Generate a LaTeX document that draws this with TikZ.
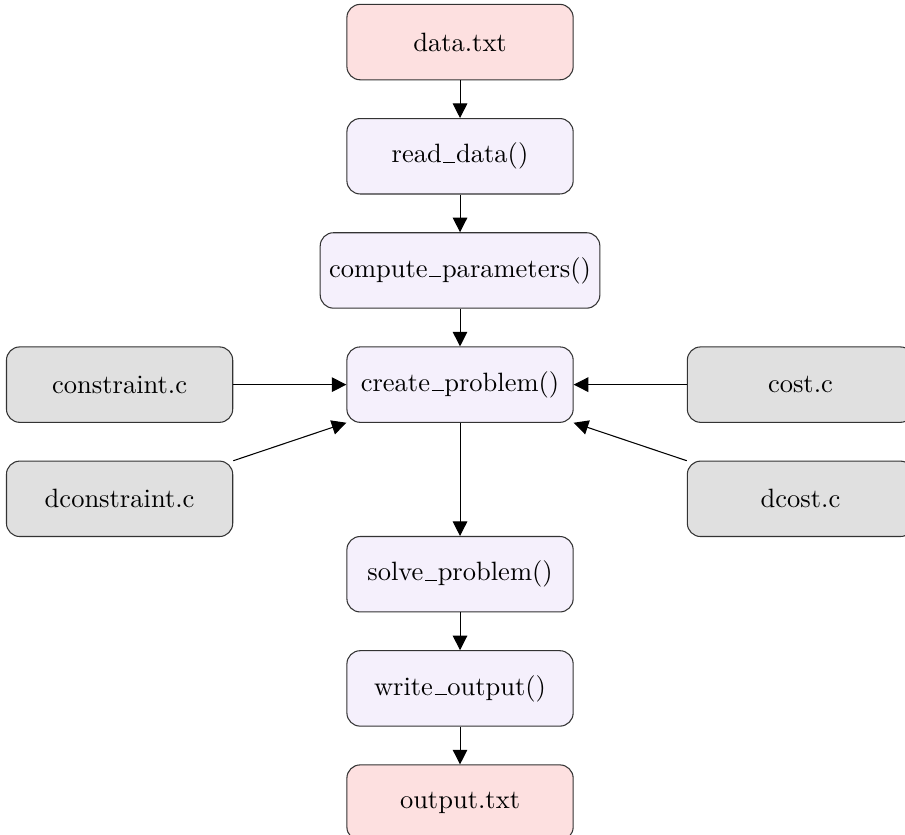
\documentclass[tikz,border=0pt]{standalone}
\usepackage{xcolor}
\usepackage{tikz}
\usetikzlibrary{
  arrows.meta,
  positioning
}
\definecolor{flFile}{HTML}{FDE0E0}
\definecolor{flFunc}{HTML}{F5F0FC}
\definecolor{flSrc}{HTML}{E0E0E0}
% low, short underscore as in the old OT1 fonts
\newcommand{\usc}{\leavevmode\kern.06em\vbox{\hrule height.45pt width.45em}\kern.03em}
\tikzset{
  flnode/.style={
    draw=black!80, rounded corners=5pt, minimum height=1cm, minimum width=3cm,
    align=center
  },
  filebox/.style={flnode, fill=flFile},
  funcbox/.style={flnode, fill=flFunc},
  srcbox/.style={flnode, fill=flSrc},
  flow/.style={-{Triangle[length=5.5pt, width=5.5pt]}, black}
}
\begin{document}
\begin{tikzpicture}[node distance=5mm]
  \useasboundingbox (-6.1,-5.97) rectangle (5.9,5.1);
  \node[funcbox] (create) {create\usc problem()};
  \node[funcbox, above=of create] (comp) {compute\usc parameters()};
  \node[funcbox, above=of comp] (read) {read\usc data()};
  \node[filebox, above=of read] (data) {data.txt};
  \node[funcbox, below=15mm of create] (solve) {solve\usc problem()};
  \node[funcbox, below=of solve] (write) {write\usc output()};
  \node[filebox, below=of write] (out) {output.txt};
  \node[srcbox, left=15mm of create] (cons) {constraint.c};
  \node[srcbox, below=of cons] (dcons) {dconstraint.c};
  \node[srcbox, right=15mm of create] (cost) {cost.c};
  \node[srcbox, below=of cost] (dcost) {dcost.c};
  \draw[flow] (data) -- (read);
  \draw[flow] (read) -- (comp);
  \draw[flow] (comp) -- (create);
  \draw[flow] (create) -- (solve);
  \draw[flow] (solve) -- (write);
  \draw[flow] (write) -- (out);
  \draw[flow] (cons) -- (create);
  \draw[flow] (dcons) -- (create);
  \draw[flow] (cost) -- (create);
  \draw[flow] (dcost) -- (create);
\end{tikzpicture}
\end{document}
